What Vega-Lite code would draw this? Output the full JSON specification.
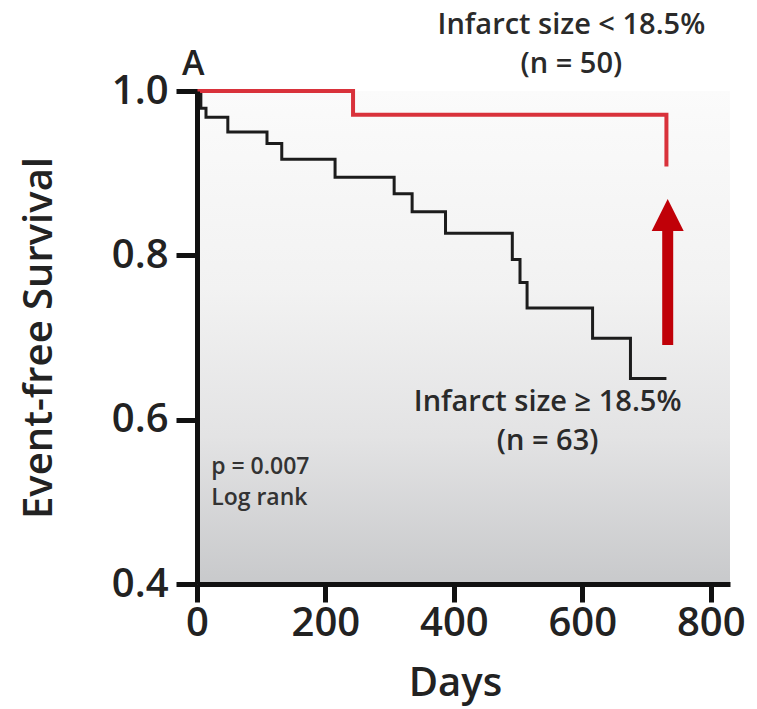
{
  "$schema": "https://vega.github.io/schema/vega-lite/v6.json",
  "width": 533,
  "height": 493,
  "autosize": "none",
  "padding": {"left": 197, "top": 91, "right": 27, "bottom": 125},
  "background": "white",
  "config": {"view": {"stroke": null}, "font": "Open Sans"},
  "datasets": {
    "black": [
      {"k": 0, "day": 0, "surv": 1.0},
      {"k": 1, "day": 6, "surv": 0.979},
      {"k": 2, "day": 14, "surv": 0.968},
      {"k": 3, "day": 48, "surv": 0.95},
      {"k": 4, "day": 109, "surv": 0.936},
      {"k": 5, "day": 132, "surv": 0.917},
      {"k": 6, "day": 215, "surv": 0.895},
      {"k": 7, "day": 307, "surv": 0.875},
      {"k": 8, "day": 335, "surv": 0.853},
      {"k": 9, "day": 387, "surv": 0.827},
      {"k": 10, "day": 491, "surv": 0.795},
      {"k": 11, "day": 503, "surv": 0.767},
      {"k": 12, "day": 514, "surv": 0.736},
      {"k": 13, "day": 616, "surv": 0.699},
      {"k": 14, "day": 675, "surv": 0.65},
      {"k": 15, "day": 731, "surv": 0.65}
    ],
    "red": [
      {"k": 0, "day": 0, "surv": 1.0},
      {"k": 1, "day": 243, "surv": 0.971},
      {"k": 2, "day": 731, "surv": 0.971},
      {"k": 3, "day": 731, "surv": 0.908}
    ],
    "arrow": [{"day": 733, "surv": 0.691, "surv2": 0.835, "head": 0.849}],
    "background": [{"day": 0, "day2": 830, "surv": 0.4, "surv2": 1.0}],
    "notes_big": [
      {"day": 583, "surv": 1.0697, "label": "Infarct size < 18.5%\n(n = 50)"},
      {"day": 546, "surv": 0.611, "label": "Infarct size ≥ 18.5%\n(n = 63)"}
    ],
    "notes_small": [
      {"day": 22, "surv": 0.534, "label": "p = 0.007\nLog rank"}
    ],
    "panel": [{"day": -6, "surv": 1.02, "label": "A"}]
  },
  "encoding": {
    "x": {
      "field": "day",
      "type": "quantitative",
      "scale": {"domain": [0, 830], "nice": false, "zero": false},
      "axis": {
        "values": [0, 200, 400, 600, 800],
        "grid": false,
        "zindex": 1,
        "domainColor": "#111",
        "domainWidth": 5,
        "tickColor": "#111",
        "tickWidth": 5,
        "tickSize": 18,
        "labelFont": "Open Sans",
        "labelFontSize": 40,
        "labelFontWeight": 600,
        "labelColor": "#222",
        "labelPadding": 1,
        "labelFlush": false,
        "title": "Days",
        "titleFont": "Open Sans",
        "titleFontSize": 40,
        "titleFontWeight": 600,
        "titleColor": "#222",
        "titlePadding": 20,
        "titleX": 258
      }
    },
    "y": {
      "field": "surv",
      "type": "quantitative",
      "scale": {"domain": [0.4, 1.0], "nice": false, "zero": false},
      "axis": {
        "values": [0.4, 0.6, 0.8, 1.0],
        "format": ".1f",
        "grid": false,
        "zindex": 1,
        "domainColor": "#111",
        "domainWidth": 5,
        "tickColor": "#111",
        "tickWidth": 5,
        "tickSize": 21,
        "labelFont": "Open Sans",
        "labelFontSize": 40,
        "labelFontWeight": 600,
        "labelColor": "#222",
        "labelPadding": 8,
        "labelFlush": false,
        "title": "Event-free Survival",
        "titleFont": "Open Sans",
        "titleFontSize": 40,
        "titleFontWeight": 600,
        "titleColor": "#222",
        "titlePadding": 52
      }
    }
  },
  "layer": [
    {
      "data": {"name": "background"},
      "mark": {
        "type": "rect",
        "strokeWidth": 0,
        "color": {
          "gradient": "linear",
          "x1": 1, "y1": 0, "x2": 1, "y2": 1,
          "stops": [
            {"offset": 0, "color": "#fbfbfb"},
            {"offset": 0.4, "color": "#f2f2f2"},
            {"offset": 0.7, "color": "#e3e3e4"},
            {"offset": 1, "color": "#c8c9cb"}
          ]
        }
      },
      "encoding": {
        "x2": {"field": "day2"},
        "y2": {"field": "surv2"}
      }
    },
    {
      "data": {"name": "black"},
      "mark": {"type": "line", "interpolate": "step-after", "color": "#1c1c1c", "strokeWidth": 3},
      "encoding": {"order": {"field": "k", "type": "quantitative"}}
    },
    {
      "data": {"name": "red"},
      "mark": {"type": "line", "interpolate": "step-after", "color": "#d9323b", "strokeWidth": 4},
      "encoding": {"order": {"field": "k", "type": "quantitative"}}
    },
    {
      "data": {"name": "arrow"},
      "mark": {"type": "rule", "color": "#c00008", "strokeWidth": 11, "strokeCap": "butt"},
      "encoding": {"y2": {"field": "surv2"}}
    },
    {
      "data": {"name": "arrow"},
      "mark": {"type": "point", "shape": "M0,-1L1,1L-1,1Z", "filled": true, "color": "#c00008", "size": 1024, "opacity": 1},
      "encoding": {"y": {"field": "head", "type": "quantitative"}}
    },
    {
      "data": {"name": "notes_big"},
      "mark": {"type": "text", "font": "Open Sans", "fontSize": 29, "fontWeight": 600, "color": "#2a2a2a", "align": "center", "baseline": "alphabetic", "lineBreak": "\n", "lineHeight": 39.6},
      "encoding": {"text": {"field": "label"}}
    },
    {
      "data": {"name": "notes_small"},
      "mark": {"type": "text", "font": "Open Sans", "fontSize": 23, "fontWeight": 600, "color": "#333333", "align": "left", "baseline": "alphabetic", "lineBreak": "\n", "lineHeight": 31.5},
      "encoding": {"text": {"field": "label"}}
    },
    {
      "data": {"name": "panel"},
      "mark": {"type": "text", "font": "Open Sans", "fontSize": 34, "fontWeight": 600, "color": "#222", "align": "center", "baseline": "alphabetic"},
      "encoding": {"text": {"field": "label"}}
    }
  ]
}
